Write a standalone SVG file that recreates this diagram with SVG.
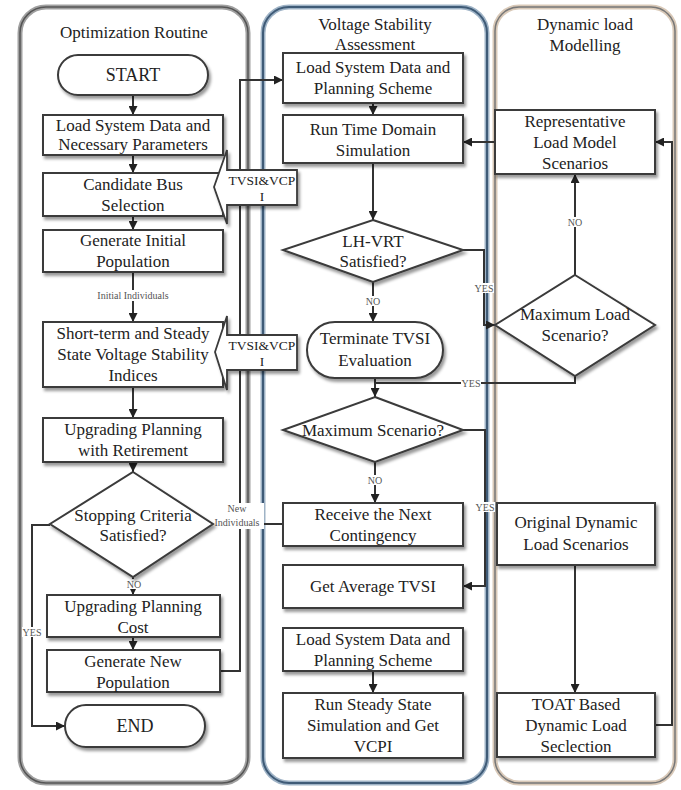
<svg xmlns="http://www.w3.org/2000/svg" width="681" height="790" viewBox="0 0 681 790">
<defs>
<marker id="arr" viewBox="0 0 10 10" refX="10" refY="5" markerWidth="4.5" markerHeight="4.5" orient="auto-start-reverse"><path d="M0,0 L10,5 L0,10 z" fill="#222"/></marker>
<filter id="sh" x="-10%" y="-10%" width="130%" height="140%"><feDropShadow dx="2" dy="3" stdDeviation="1.5" flood-color="#000" flood-opacity="0.4"/></filter>
</defs>
<style>
.box{fill:#fff;stroke:#3a3a3a;stroke-width:2;filter:url(#sh)}
.co{fill:#fff;stroke:#3a3a3a;stroke-width:1.8;filter:url(#sh)}
.t{font-family:"Liberation Serif","Times New Roman",serif;font-size:17px;fill:#222;text-anchor:middle}
.ct{font-size:13.5px}
.s{font-family:"Liberation Serif","Times New Roman",serif;font-size:10px;fill:#555;text-anchor:middle}
.lb{fill:#fff}
.c{fill:none;stroke:#333;stroke-width:2}
.a{marker-end:url(#arr)}
</style>
<rect width="681" height="790" fill="#fff"/>

<g id="panel-optimization">
<rect x="20" y="7" width="228" height="776" rx="26" fill="#fff" stroke="#a0a0a0" stroke-width="5"/>
<rect x="20" y="7" width="228" height="776" rx="26" fill="none" stroke="#555" stroke-width="1.5"/>
<text class="t" x="134" y="38">Optimization Routine</text>
</g>
<g id="panel-vsa">
<rect x="263" y="7" width="224" height="776" rx="26" fill="#fff" stroke="#9fb3c6" stroke-width="5"/>
<rect x="263" y="7" width="224" height="776" rx="26" fill="none" stroke="#3f5b77" stroke-width="2"/>
<text class="t" x="375" y="30">Voltage Stability</text>
<text class="t" x="375" y="50">Assessment</text>
</g>
<g id="panel-dlm">
<rect x="495" y="7" width="180" height="776" rx="24" fill="#fff" stroke="#d9c9b8" stroke-width="5"/>
<rect x="495" y="7" width="180" height="776" rx="24" fill="none" stroke="#777" stroke-width="1.5"/>
<text class="t" x="585" y="30">Dynamic load</text>
<text class="t" x="585" y="51">Modelling</text>
</g>

<g id="connectors">
<path class="c a" d="M133,95 V115"/>
<path class="c a" d="M133,155 V173"/>
<path class="c a" d="M133,216 V230"/>
<path class="c a" d="M133,272 V322"/>
<path class="c a" d="M133,387 V418"/>
<path class="c a" d="M133,462 V472"/>
<path class="c a" d="M133,577 V595"/>
<path class="c a" d="M133,637 V650"/>
<path class="c a" d="M50,525 H32 V726 H65"/>
<path class="c a" d="M220,671 H240 V80 H283"/>
<path class="c" d="M213,524 H283"/>
<path class="c a" d="M373,103 V115"/>
<path class="c a" d="M373,163 V220"/>
<path class="c a" d="M373,282 V322"/>
<path class="c a" d="M463,250 H484 V325 H495"/>
<path class="c a" d="M375,378 V397"/>
<path class="c" d="M575,376 V383 H375"/>
<path class="c a" d="M375,462 V503"/>
<path class="c a" d="M463,430 H485 V586 H463"/>
<path class="c a" d="M373,671 V693"/>
<path class="c a" d="M495,142 H463"/>
<path class="c a" d="M655,725 H672 V142 H655"/>
<path class="c a" d="M575,275 V174"/>
<path class="c a" d="M575,565 V693"/>
<rect class="lb" x="92" y="290" width="82" height="11"/>
<text class="s" x="133" y="299">Initial Individuals</text>
<rect class="lb" x="125" y="579" width="18" height="10"/>
<text class="s" x="134" y="588">NO</text>
<rect class="lb" x="22" y="627" width="20" height="10"/>
<text class="s" x="32" y="636">YES</text>
<rect class="lb" x="212" y="503" width="52" height="26"/>
<text class="s" x="237" y="512">New</text>
<text class="s" x="237" y="526">Individuals</text>
<rect class="lb" x="364" y="296" width="18" height="10"/>
<text class="s" x="373" y="305">NO</text>
<rect class="lb" x="474" y="283" width="20" height="10"/>
<text class="s" x="484" y="292">YES</text>
<rect class="lb" x="461" y="378" width="20" height="10"/>
<text class="s" x="471" y="387">YES</text>
<rect class="lb" x="366" y="475" width="18" height="10"/>
<text class="s" x="375" y="484">NO</text>
<rect class="lb" x="475" y="502" width="20" height="10"/>
<text class="s" x="485" y="511">YES</text>
<rect class="lb" x="566" y="217" width="18" height="10"/>
<text class="s" x="575" y="226">NO</text>
</g>

<g id="start"><rect class="box" x="58" y="55" width="150" height="40" rx="20"/><text class="t" x="133" y="81" style="font-size:18px">START</text></g>
<g id="load-params"><rect class="box" x="43" y="115" width="180" height="40"/><text class="t" x="133" y="131">Load System Data and</text><text class="t" x="133" y="150">Necessary Parameters</text></g>
<g id="candidate"><rect class="box" x="43" y="173" width="180" height="43"/><text class="t" x="133" y="190">Candidate Bus</text><text class="t" x="133" y="211">Selection</text></g>
<g id="gen-initial"><rect class="box" x="43" y="230" width="180" height="42"/><text class="t" x="133" y="246">Generate Initial</text><text class="t" x="133" y="267">Population</text></g>
<g id="indices"><rect class="box" x="43" y="322" width="180" height="65"/><text class="t" x="133" y="339">Short-term and Steady</text><text class="t" x="133" y="360">State Voltage Stability</text><text class="t" x="133" y="381">Indices</text></g>
<g id="upgrading-retirement"><rect class="box" x="43" y="418" width="180" height="44"/><text class="t" x="133" y="435">Upgrading Planning</text><text class="t" x="133" y="456">with Retirement</text></g>
<g id="stopping"><polygon class="box" points="133,472 213,524 133,577 50,524"/><text class="t" x="133" y="521">Stopping Criteria</text><text class="t" x="133" y="541">Satisfied?</text></g>
<g id="upgrading-cost"><rect class="box" x="47" y="595" width="173" height="42"/><text class="t" x="133" y="612">Upgrading Planning</text><text class="t" x="133" y="633">Cost</text></g>
<g id="gen-new"><rect class="box" x="47" y="650" width="173" height="42"/><text class="t" x="133" y="667">Generate New</text><text class="t" x="133" y="688">Population</text></g>
<g id="end"><rect class="box" x="65" y="705" width="140" height="42" rx="21"/><text class="t" x="135" y="732" style="font-size:18px">END</text></g>

<g id="callout-1"><polygon class="co" points="214,187 227,150 227,170 297,170 297,205 227,205 227,224"/><text class="t ct" x="262" y="185">TVSI&amp;VCP</text><text class="t ct" x="262" y="201">I</text></g>
<g id="callout-2"><polygon class="co" points="215,352 227,316 227,335 297,335 297,370 227,370 227,390"/><text class="t ct" x="262" y="350">TVSI&amp;VCP</text><text class="t ct" x="262" y="366">I</text></g>

<g id="load-scheme-1"><rect class="box" x="283" y="53" width="180" height="50"/><text class="t" x="373" y="73">Load System Data and</text><text class="t" x="373" y="94">Planning Scheme</text></g>
<g id="run-tds"><rect class="box" x="283" y="115" width="180" height="48"/><text class="t" x="373" y="135">Run Time Domain</text><text class="t" x="373" y="156">Simulation</text></g>
<g id="lhvrt"><polygon class="box" points="373,220 463,250 373,282 283,250"/><text class="t" x="373" y="247">LH-VRT</text><text class="t" x="373" y="267">Satisfied?</text></g>
<g id="terminate"><rect class="box" x="307" y="322" width="136" height="56" rx="28"/><text class="t" x="375" y="344">Terminate TVSI</text><text class="t" x="375" y="366">Evaluation</text></g>
<g id="max-scenario"><polygon class="box" points="375,397 463,430 375,462 283,430"/><text class="t" x="373" y="436">Maximum Scenario?</text></g>
<g id="receive"><rect class="box" x="283" y="503" width="180" height="43"/><text class="t" x="373" y="520">Receive the Next</text><text class="t" x="373" y="541">Contingency</text></g>
<g id="avg-tvsi"><rect class="box" x="283" y="565" width="180" height="43"/><text class="t" x="373" y="592">Get Average TVSI</text></g>
<g id="load-scheme-2"><rect class="box" x="283" y="628" width="180" height="43"/><text class="t" x="373" y="645">Load System Data and</text><text class="t" x="373" y="666">Planning Scheme</text></g>
<g id="run-steady"><rect class="box" x="283" y="693" width="180" height="65"/><text class="t" x="373" y="710">Run Steady State</text><text class="t" x="373" y="731">Simulation and Get</text><text class="t" x="373" y="752">VCPI</text></g>

<g id="representative"><rect class="box" x="495" y="110" width="160" height="64"/><text class="t" x="575" y="127">Representative</text><text class="t" x="575" y="148">Load Model</text><text class="t" x="575" y="169">Scenarios</text></g>
<g id="max-load"><polygon class="box" points="575,275 655,325 575,376 495,325"/><text class="t" x="575" y="320">Maximum Load</text><text class="t" x="575" y="341">Scenario?</text></g>
<g id="original"><rect class="box" x="497" y="503" width="158" height="62"/><text class="t" x="576" y="528">Original Dynamic</text><text class="t" x="576" y="550">Load Scenarios</text></g>
<g id="toat"><rect class="box" x="497" y="693" width="158" height="64"/><text class="t" x="576" y="710">TOAT Based</text><text class="t" x="576" y="731">Dynamic Load</text><text class="t" x="576" y="752">Seclection</text></g>
</svg>
